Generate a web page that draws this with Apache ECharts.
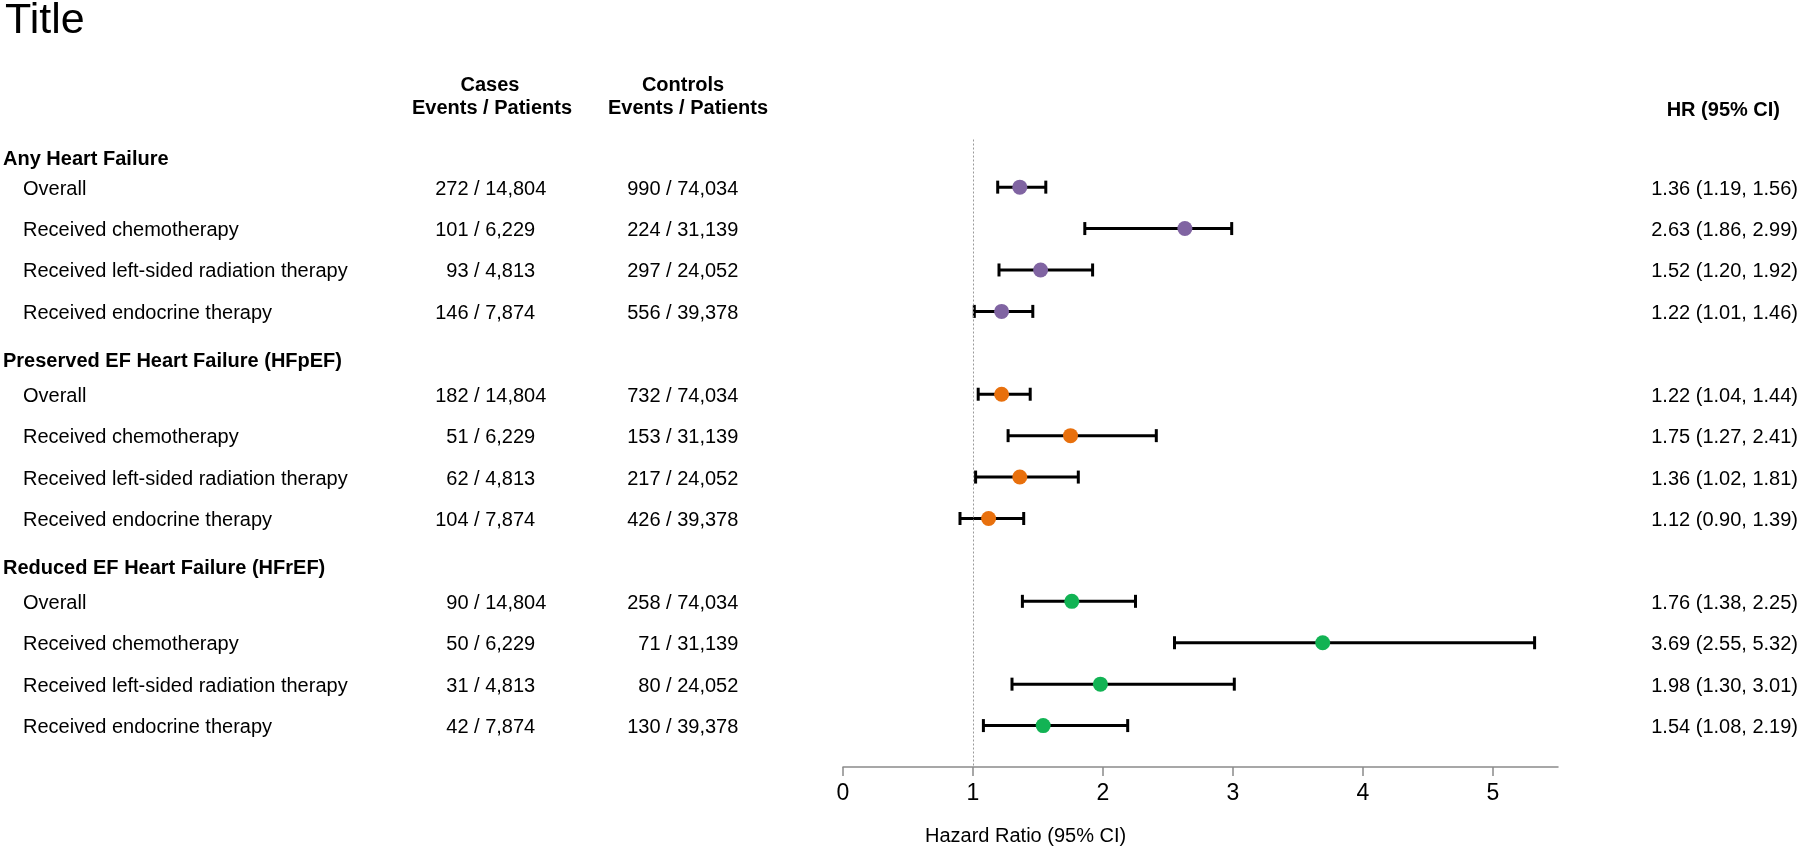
<!DOCTYPE html>
<html>
<head>
<meta charset="utf-8">
<script src="https://cdn.jsdelivr.net/npm/echarts@6/dist/echarts.min.js"></script>
<style>html,body{margin:0;padding:0;background:#fff}#main{width:1800px;height:851px}</style>
</head>
<body>
<div id="main"></div>
<script>
// ---- data ----
const titleText = 'Title';
const groupNames = ['Any Heart Failure', 'Preserved EF Heart Failure (HFpEF)', 'Reduced EF Heart Failure (HFrEF)'];
const subgroupNames = ['Overall', 'Received chemotherapy', 'Received left-sided radiation therapy', 'Received endocrine therapy'];
const caseEvents = [[272, 101, 93, 146], [182, 51, 62, 104], [90, 50, 31, 42]];
const casePatients = ['14,804', '6,229', '4,813', '7,874'];
const controlEvents = [[990, 224, 297, 556], [732, 153, 217, 426], [258, 71, 80, 130]];
const controlPatients = ['74,034', '31,139', '24,052', '39,378'];
const hrValues = [[1.36, 2.63, 1.52, 1.22], [1.22, 1.75, 1.36, 1.12], [1.76, 3.69, 1.98, 1.54]];
const ciLower = [[1.19, 1.86, 1.20, 1.01], [1.04, 1.27, 1.02, 0.90], [1.38, 2.55, 1.30, 1.08]];
const ciUpper = [[1.56, 2.99, 1.92, 1.46], [1.44, 2.41, 1.81, 1.39], [2.25, 5.32, 3.01, 2.19]];
const groupColors = ['#8064A2', '#E8700D', '#12B354'];
const xTicks = [0, 1, 2, 3, 4, 5];
const xAxisName = 'Hazard Ratio (95% CI)';
const colHeaders = { cases: ['Cases', 'Events / Patients'], controls: ['Controls', 'Events / Patients'], hr: 'HR (95% CI)' };

// ---- build ----
const FONT = '"Liberation Sans", Arial, sans-serif';
const rowsPerGroup = subgroupNames.length + 1;
const rowOf = (g, k) => g * rowsPerGroup + k + 1;
const headerRowOf = g => g * rowsPerGroup;
const headerShift = [14, 9, 9];
const fmt2 = v => v.toFixed(2);

const errData = [];
groupNames.forEach((_, g) => subgroupNames.forEach((__, k) => errData.push([ciLower[g][k], ciUpper[g][k], rowOf(g, k)])));

const series = [{
  type: 'custom',
  data: errData,
  encode: { x: [0, 1], y: 2 },
  z: 2,
  silent: true,
  renderItem: function (params, api) {
    const lo = api.coord([api.value(0), api.value(2)]);
    const hi = api.coord([api.value(1), api.value(2)]);
    const h = 6.5;
    const st = { stroke: '#000', lineWidth: 3 };
    return {
      type: 'group', children: [
        { type: 'line', shape: { x1: lo[0], y1: lo[1], x2: hi[0], y2: hi[1] }, style: st },
        { type: 'line', shape: { x1: lo[0], y1: lo[1] - h, x2: lo[0], y2: lo[1] + h }, style: st },
        { type: 'line', shape: { x1: hi[0], y1: hi[1] - h, x2: hi[0], y2: hi[1] + h }, style: st }
      ]
    };
  }
}];
groupNames.forEach((_, g) => {
  series.push({
    type: 'scatter',
    z: 3,
    symbol: 'circle',
    symbolSize: 15,
    itemStyle: { color: groupColors[g], opacity: 1 },
    data: subgroupNames.map((__, k) => [hrValues[g][k], rowOf(g, k)]),
    markLine: g === 0 ? {
      silent: true, symbol: 'none', label: { show: false },
      lineStyle: { color: '#9a9a9a', type: [2, 2], width: 1 },
      data: [{ xAxis: 1 }]
    } : undefined
  });
});

const chart = echarts.init(document.getElementById('main'), null, { renderer: 'canvas' });
chart.setOption({
  animation: false,
  backgroundColor: '#fff',
  grid: { left: 843, right: 242, top: 139.5, bottom: 84 },
  xAxis: {
    type: 'value', min: 0, max: 5.5, interval: 1, position: 'bottom',
    splitLine: { show: false },
    axisLine: { show: true, onZero: false, lineStyle: { color: '#8a8a8a', width: 1.5 } },
    axisTick: { show: true, length: 9, lineStyle: { color: '#8a8a8a', width: 1.5 }, customValues: xTicks },
    axisLabel: { fontSize: 23, color: '#000', fontFamily: FONT, margin: 15, customValues: xTicks }
  },
  yAxis: { type: 'value', inverse: true, min: -0.15, max: 15, show: false },
  series: series
});

// ---- texts positioned through the axes ----
const py = r => chart.convertToPixel({ yAxisIndex: 0 }, r);
const txt = (text, x, y, opt) => ({
  type: 'text', silent: true,
  style: Object.assign({ text: text, x: x, y: y, fill: '#000', font: '20px ' + FONT, textAlign: 'left', textVerticalAlign: 'middle' }, opt || {})
});
const BOLD = 'bold 20px ' + FONT;
const g = [];
g.push(txt(titleText, 5, 21, { font: '43px ' + FONT }));
g.push(txt(colHeaders.cases[0], 490, 85, { font: BOLD, textAlign: 'center' }));
g.push(txt(colHeaders.cases[1], 492, 108, { font: BOLD, textAlign: 'center' }));
g.push(txt(colHeaders.controls[0], 683, 85, { font: BOLD, textAlign: 'center' }));
g.push(txt(colHeaders.controls[1], 688, 108, { font: BOLD, textAlign: 'center' }));
g.push(txt(colHeaders.hr, 1780, 110, { font: BOLD, textAlign: 'right' }));
const casesSlash = 468.5, controlsSlash = 660.5;
groupNames.forEach((name, gi) => {
  g.push(txt(name, 3, py(headerRowOf(gi)) + headerShift[gi], { font: BOLD }));
  subgroupNames.forEach((sub, k) => {
    const y = py(rowOf(gi, k)) + 2;
    g.push(txt(sub, 23, y));
    g.push(txt(String(caseEvents[gi][k]), casesSlash, y, { textAlign: 'right' }));
    g.push(txt(' / ' + casePatients[k], casesSlash, y));
    g.push(txt(String(controlEvents[gi][k]), controlsSlash, y, { textAlign: 'right' }));
    g.push(txt(' / ' + controlPatients[k], controlsSlash, y));
    g.push(txt(fmt2(hrValues[gi][k]) + ' (' + fmt2(ciLower[gi][k]) + ', ' + fmt2(ciUpper[gi][k]) + ')', 1798, y, { textAlign: 'right' }));
  });
});
g.push(txt(xAxisName, 925, 836));
chart.setOption({ graphic: { elements: g } });
</script>
</body>
</html>
